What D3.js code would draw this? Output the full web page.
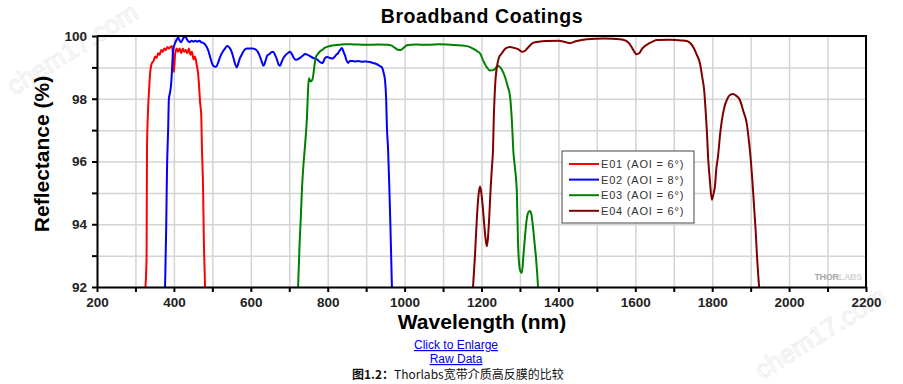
<!DOCTYPE html>
<html lang="en">
<head>
<meta charset="UTF-8">
<script src="https://cdn.jsdelivr.net/npm/d3@7/dist/d3.min.js"></script>
<title>Broadband Coatings</title>
<style>
    body { margin: 0; background: #fff; }
    svg { display: block; font-family: "Liberation Sans", Arial, sans-serif; }
</style>
</head>
<body>
<script>
// series: [wavelength nm, reflectance %]
const e01 = [[326,92],[329,93],[330,96.4],[333,97.7],[336,98.4],[338,98.8],[343,99.14],[347,99.2],[351,99.35],[355,99.3],[359,99.45],[363,99.4],[367,99.55],[371,99.5],[375,99.6],[379,99.55],[383,99.65],[387,99.6],[391,99.65],[395,99.68],[398,99.3],[400,98.85],[403,99.4],[407,99.6],[411,99.5],[415,99.6],[419,99.45],[423,99.6],[427,99.5],[431,99.55],[435,99.45],[439,99.6],[443,99.4],[447,99.5],[451,99.25],[455,99.35],[459,99.1],[463,98.8],[466,98.3],[468,97.9],[471,97.5],[473,96.4],[476,95.1],[478,93.4],[480,92.5],[481,92]]

const e02 = [[377,92],[380,93.9],[382,95.7],[385,97.0],[387,98.0],[390,98.2],[393,98.5],[395,98.9],[398,99.55],[403,99.77],[408,99.9],[411,99.95],[415,99.85],[419,99.8],[423,99.9],[427,99.97],[431,99.95],[436,99.85],[441,99.8],[446,99.85],[451,99.82],[456,99.85],[461,99.82],[466,99.85],[471,99.8],[476,99.78],[482,99.72],[489,99.55],[495,99.3],[500,99.1],[505,99.03],[510,99.02],[515,99.15],[520,99.33],[527,99.5],[533,99.6],[538,99.68],[545,99.62],[550,99.5],[555,99.3],[560,99.08],[564,99.0],[568,99.15],[572,99.3],[577,99.42],[583,99.55],[590,99.6],[597,99.6],[604,99.6],[611,99.58],[617,99.52],[622,99.4],[628,99.2],[633,99.05],[638,99.2],[643,99.38],[648,99.42],[653,99.48],[658,99.5],[663,99.4],[668,99.25],[672,99.1],[676,99.05],[681,99.2],[686,99.32],[691,99.4],[697,99.46],[702,99.5],[707,99.42],[712,99.3],[717,99.24],[722,99.26],[730,99.32],[736,99.38],[741,99.43],[748,99.4],[755,99.35],[762,99.3],[768,99.28],[774,99.24],[779,99.18],[784,99.14],[788,99.16],[793,99.3],[799,99.33],[806,99.3],[812,99.28],[817,99.32],[822,99.4],[827,99.45],[832,99.55],[837,99.62],[841,99.5],[845,99.38],[849,99.22],[853,99.14],[858,99.2],[864,99.2],[872,99.19],[880,99.2],[890,99.18],[900,99.19],[910,99.17],[918,99.14],[928,99.1],[936,99.04],[941,99.0],[946,98.8],[949,98.6],[952,98.0],[954,97.1],[957,96.4],[960,95.3],[963,94.0],[965,93.0],[967,92]]

const e03 = [[723,92],[725,92.7],[727,93.4],[730,94.2],[733,95.1],[737,95.9],[741,96.5],[744,97.0],[746,97.4],[749,98.3],[751,98.65],[756,98.55],[760,98.6],[763,98.8],[766,99.1],[770,99.35],[774,99.42],[779,99.5],[785,99.55],[792,99.62],[800,99.66],[812,99.7],[830,99.72],[845,99.74],[870,99.73],[900,99.72],[930,99.73],[955,99.72],[965,99.7],[975,99.62],[983,99.56],[990,99.55],[998,99.63],[1008,99.71],[1030,99.73],[1060,99.72],[1090,99.74],[1110,99.73],[1130,99.71],[1150,99.7],[1165,99.67],[1178,99.6],[1188,99.52],[1196,99.45],[1205,99.2],[1214,99.0],[1222,98.9],[1232,98.92],[1243,99.05],[1252,98.95],[1261,98.7],[1268,98.4],[1274,98.1],[1279,97.3],[1283,96.3],[1287,95.8],[1292,95.0],[1295,93.4],[1300,92.55],[1305,92.45],[1309,93.0],[1313,93.6],[1317,94.1],[1321,94.36],[1326,94.42],[1330,94.3],[1334,93.9],[1338,93.4],[1342,92.9],[1345,92.4],[1347,92]]

const e04 = [[1178,92],[1183,93],[1188,94.2],[1192,94.9],[1196,95.2],[1199,95.05],[1203,94.6],[1207,94.0],[1211,93.5],[1214,93.3],[1217,93.6],[1220,94.2],[1224,95.2],[1227,95.8],[1230,96.4],[1232,97.4],[1234,98.06],[1237,98.7],[1240,99.0],[1245,99.3],[1253,99.45],[1262,99.6],[1274,99.65],[1285,99.62],[1295,99.58],[1305,99.5],[1312,99.52],[1320,99.62],[1334,99.78],[1350,99.82],[1370,99.84],[1400,99.85],[1415,99.82],[1430,99.77],[1445,99.83],[1474,99.9],[1520,99.92],[1560,99.9],[1575,99.85],[1585,99.75],[1595,99.55],[1603,99.42],[1610,99.45],[1618,99.6],[1630,99.72],[1645,99.82],[1656,99.87],[1690,99.88],[1720,99.86],[1734,99.84],[1744,99.76],[1752,99.62],[1760,99.4],[1768,99.14],[1774,98.7],[1779,98.28],[1783,97.6],[1786,97.0],[1790,96.0],[1794,95.4],[1799,94.78],[1803,94.95],[1807,95.2],[1811,95.8],[1815,96.15],[1820,96.8],[1825,97.3],[1831,97.7],[1838,97.96],[1846,98.12],[1854,98.15],[1862,98.1],[1872,97.96],[1881,97.6],[1890,97.2],[1896,96.6],[1901,95.96],[1905,95.3],[1909,94.55],[1913,93.8],[1916,93.1],[1919,92.5],[1922,92]]

const seriesNames = ["E01 (AOI = 6°)", "E02 (AOI = 8°)", "E03 (AOI = 6°)", "E04 (AOI = 6°)"]
const seriesColors = ["#ff0000", "#0000ff", "#008000", "#800000"]
const seriesData = [e01, e02, e03, e04]

const xMajor = d3.range(200, 2201, 200)
const xMinor = d3.range(200, 2201, 100)
const yMajor = [92, 94, 96, 98, 100]
const yMinor = d3.range(92, 100.1, 1)

const width = 903
const height = 384
const plotL = 97, plotR = 866, plotT = 36, plotB = 287

const svg = d3.select("body").append("svg")
    .attr("width", width)
    .attr("height", height)

const x = d3.scaleLinear().domain([200, 2200]).range([plotL, plotR])
const y = d3.scaleLinear().domain([92, 100]).range([plotB, plotT])

// faint site watermarks (behind everything)
const marks = [[14, 96], [762, 380]]
svg.selectAll("text.wm")
    .data(marks)
    .join("text")
    .attr("class", "wm")
    .attr("transform", d => `translate(${d[0]},${d[1]}) rotate(-32)`)
    .attr("fill", "none")
    .attr("stroke", "#ededed")
    .attr("stroke-width", 1)
    .style("font-size", "26px")
    .text("chem17.com")

// grid
svg.append("g")
    .attr("transform", `translate(0,${plotB})`)
    .call(d3.axisBottom(x).tickValues(xMinor).tickSize(-(plotB - plotT)).tickFormat(""))
    .call(g => g.select(".domain").remove())
    .selectAll("line").attr("stroke", "#d4d4d4").attr("stroke-width", 1.5)

svg.append("g")
    .attr("transform", `translate(${plotL},0)`)
    .call(d3.axisLeft(y).tickValues(yMinor).tickSize(-(plotR - plotL)).tickFormat(""))
    .call(g => g.select(".domain").remove())
    .selectAll("line").attr("stroke", "#d4d4d4").attr("stroke-width", 1.5)

// curves
svg.append("clipPath").attr("id", "plot")
    .append("rect").attr("x", plotL).attr("y", plotT - 2).attr("width", plotR - plotL).attr("height", plotB - plotT + 2)

const line = d3.line()
    .x(d => x(d[0]))
    .y(d => y(d[1]))
    .curve(d3.curveMonotoneX)

svg.append("g").attr("clip-path", "url(#plot)")
    .selectAll("path")
    .data(seriesData)
    .join("path")
    .attr("d", line)
    .attr("fill", "none")
    .attr("stroke", (d, i) => seriesColors[i])
    .attr("stroke-width", 2)
    .attr("stroke-linejoin", "round")

// frame
svg.append("path")
    .attr("d", `M${plotL},${plotT}H${plotR}V${plotB}`)
    .attr("fill", "none")
    .attr("stroke", "#000")
    .attr("stroke-width", 2)

// axes
svg.append("g")
    .attr("class", "axis")
    .attr("transform", `translate(0,${plotB})`)
    .call(d3.axisBottom(x).tickValues(xMinor).tickSize(5).tickSizeOuter(0).tickFormat(""))
svg.append("g")
    .attr("class", "axis")
    .attr("transform", `translate(0,${plotB})`)
    .call(d3.axisBottom(x).tickValues(xMajor).tickSize(0).tickPadding(10).tickFormat(d3.format("d")))
    .call(g => g.select(".domain").remove())

svg.append("g")
    .attr("class", "axis")
    .attr("transform", `translate(${plotL},0)`)
    .call(d3.axisLeft(y).tickValues(yMinor).tickSize(5).tickSizeOuter(0).tickFormat(""))
svg.append("g")
    .attr("class", "axis")
    .attr("transform", `translate(${plotL},0)`)
    .call(d3.axisLeft(y).tickValues(yMajor).tickSize(0).tickPadding(10).tickFormat(d3.format("d")))
    .call(g => g.select(".domain").remove())

svg.selectAll(".axis .domain").attr("stroke", "#000").attr("stroke-width", 2)
svg.selectAll(".axis .tick line").attr("stroke", "#000").attr("stroke-width", 2)
svg.selectAll(".axis .tick text")
    .attr("fill", "#222")
    .style("font-size", "13.5px")
    .style("font-weight", "bold")
    .style("font-family", "'Liberation Sans', Arial, sans-serif")

// titles
svg.append("text")
    .attr("x", 482).attr("y", 23)
    .attr("text-anchor", "middle")
    .style("font-size", "19.5px").style("font-weight", "bold").style("letter-spacing", "0.6px")
    .text("Broadband Coatings")

svg.append("text")
    .attr("x", 482).attr("y", 329)
    .attr("text-anchor", "middle")
    .style("font-size", "21px").style("font-weight", "bold")
    .text("Wavelength (nm)")

svg.append("text")
    .attr("transform", "translate(49,154) rotate(-90)")
    .attr("text-anchor", "middle")
    .style("font-size", "21px").style("font-weight", "bold")
    .text("Reflectance (%)")

// legend
const legend = svg.append("g").attr("transform", "translate(562,151)")
legend.append("rect")
    .attr("width", 132).attr("height", 72)
    .attr("fill", "#fff").attr("stroke", "#444").attr("stroke-width", 1)
const items = legend.selectAll("g.item")
    .data(seriesNames)
    .join("g")
    .attr("class", "item")
    .attr("transform", (d, i) => `translate(0,${13 + i * 15.6})`)
items.append("line")
    .attr("x1", 7).attr("x2", 37)
    .attr("stroke", (d, i) => seriesColors[i]).attr("stroke-width", 2)
items.append("text")
    .attr("x", 39).attr("y", 4)
    .attr("fill", "#333")
    .style("font-size", "11px").style("letter-spacing", "0.8px")
    .text(d => d)

// logo
const logo = svg.append("text")
    .attr("x", 862).attr("y", 280)
    .attr("text-anchor", "end")
    .style("font-size", "9px").style("font-weight", "bold").style("letter-spacing", "-0.3px")
logo.append("tspan").attr("fill", "#a8a8a8").text("THOR")
logo.append("tspan").attr("fill", "#d4d4d4").text("LABS")

// links and caption
svg.append("text")
    .attr("x", 456).attr("y", 349)
    .attr("text-anchor", "middle")
    .attr("fill", "#0000ee")
    .style("font-size", "12px").style("text-decoration", "underline")
    .text("Click to Enlarge")
svg.append("text")
    .attr("x", 456).attr("y", 363)
    .attr("text-anchor", "middle")
    .attr("fill", "#0000ee")
    .style("font-size", "12px").style("text-decoration", "underline")
    .text("Raw Data")

const caption = svg.append("text")
    .attr("x", 352).attr("y", 379)
    .attr("fill", "#111")
    .style("font-size", "12px")
    .style("font-family", "'Noto Sans CJK SC', sans-serif")
caption.append("tspan").style("font-weight", "bold").text("图1.2：")
caption.append("tspan").text("Thorlabs宽带介质高反膜的比较")
</script>
</body>
</html>
